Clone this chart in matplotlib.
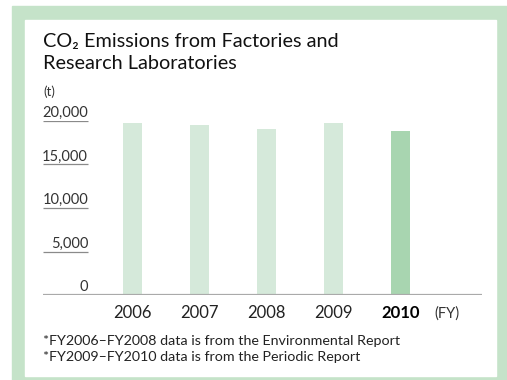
import matplotlib.pyplot as plt
from matplotlib.patches import Rectangle

plt.rcParams['font.family'] = ['Lato', 'DejaVu Sans']

years = ['2006', '2007', '2008', '2009', '2010']
emissions = [19750, 19550, 19100, 19750, 18850]
yticks = [0, 5000, 10000, 15000, 20000]
ytick_labels = ['0', '5,000', '10,000', '15,000', '20,000']
notes = ['*FY2006–FY2008 data is from the Environmental Report',
         '*FY2009–FY2010 data is from the Periodic Report']

W, H = 507, 380
fig = plt.figure(figsize=(W / 100, H / 100), dpi=100)

def px_box(x0, y0, x1, y1):
    # pixel box (top-left origin) -> figure fraction rect
    return (x0 / W, 1 - y1 / H, (x1 - x0) / W, (y1 - y0) / H)

def frame(box, color):
    l, b, w, h = box
    fig.patches.append(Rectangle((l, b), w, h, transform=fig.transFigure,
                                 color=color, zorder=-2))

# green frame with white panel
frame(px_box(12, 6, 507, 380), '#c5e3c9')
frame(px_box(25, 20, 496, 376), 'white')

ax = fig.add_axes(px_box(43, 121, 482, 295))
ax.set_zorder(2)
ax.patch.set_alpha(0)
for s in ax.spines.values():
    s.set_visible(False)

x = list(range(len(years)))
colors = ['#d5e9da'] * 4 + ['#a8d5b0']
ax.bar(x, emissions, width=0.284, color=colors, zorder=2)

ax.set_xlim(-1.336, 5.216)
ax.set_ylim(0, 20000)
ax.set_xticks([])
ax.set_yticks([])

# baseline and short guide lines under the tick labels
ax.axhline(0, color='#aaaaaa', lw=1.6, zorder=3)
for v, lab in zip(yticks, ytick_labels):
    if v > 0:
        ax.hlines(v, -1.336, -0.664, color='#8a8a8a', lw=0.9)
    ax.text(-0.664, v + 460, lab, ha='right', va='baseline', fontsize=10.5, color='#333333')

# year labels under the baseline, current year in bold
for xi, yr in zip(x, years):
    bold = yr == years[-1]
    ax.text(xi, -2650, yr, ha='center', va='baseline', fontsize=12,
            color='black' if bold else '#222222', fontweight='bold' if bold else 'normal')
ax.text(4.69, -2650, '(FY)', ha='center', va='baseline', fontsize=10.5, color='#333333')

fig.text(43 / W, 1 - 47 / H, 'CO₂ Emissions from Factories and',
         ha='left', va='baseline', fontsize=14.3, color='#111111')
fig.text(43 / W, 1 - 69 / H, 'Research Laboratories',
         ha='left', va='baseline', fontsize=14.3, color='#111111')
fig.text(43 / W, 1 - 92 / H, '(t)', ha='left', va='center', fontsize=9.5, color='#333333')
for i, note in enumerate(notes):
    fig.text(43 / W, 1 - (341 + 16 * i) / H, note,
             ha='left', va='center', fontsize=10.3, color='#222222')

fig.savefig('out.png', dpi=100)
